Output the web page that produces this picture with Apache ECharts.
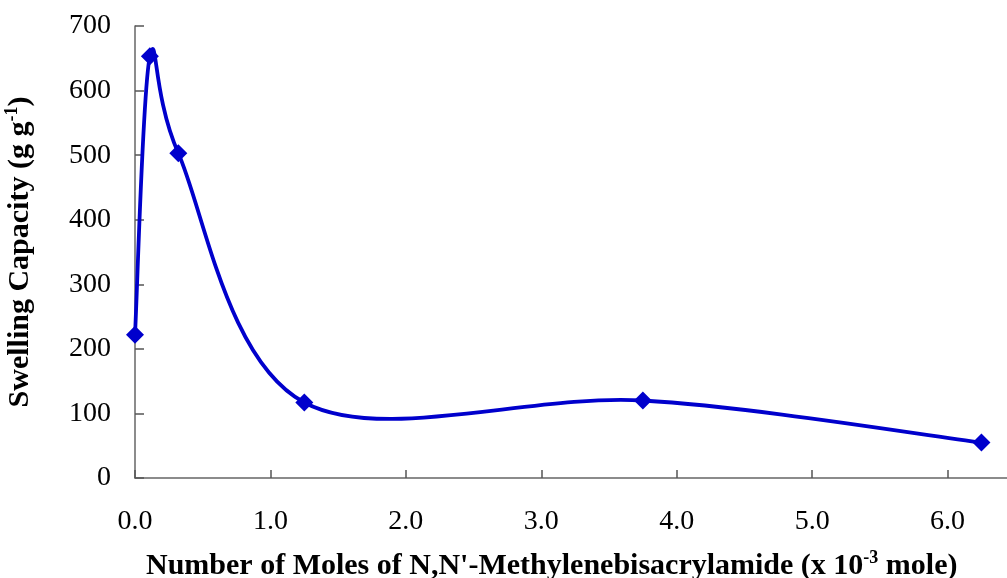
<!DOCTYPE html>
<html>
<head>
<meta charset="utf-8">
<script src="https://cdn.jsdelivr.net/npm/echarts@6/dist/echarts.min.js"></script>
<style>
html,body{margin:0;padding:0;background:#fff;}
#main{width:1007px;height:578px;}
</style>
</head>
<body>
<div id="main"></div>
<script>
var moles = [0, 0.11, 0.32, 1.25, 3.75, 6.25];
var swelling = [222, 653, 503, 117, 120, 55];
var xTicks = [0, 1, 2, 3, 4, 5, 6, 7];
var yTicks = [0, 100, 200, 300, 400, 500, 600, 700];

var FONT = '"Liberation Serif", "Times New Roman", serif';
var LINE_COLOR = '#0000CC';
var chart = echarts.init(document.getElementById('main'));
var pts = moles.map(function (x, i) { return [x, swelling[i]]; });

// Excel-style smoothed segment between point i and i+1 (Catmull-Rom, 1/6 tension)
function renderSegment(params, api) {
  var i = params.dataIndex;
  var n = moles.length;
  if (i >= n - 1) return null;
  function P(k) {
    k = Math.max(0, Math.min(n - 1, k));
    return api.coord([moles[k], swelling[k]]);
  }
  var p0 = P(i - 1), p1 = P(i), p2 = P(i + 1), p3 = P(i + 2);
  var c1 = [p1[0] + (p2[0] - p0[0]) / 6, p1[1] + (p2[1] - p0[1]) / 6];
  var c2 = [p2[0] - (p3[0] - p1[0]) / 6, p2[1] - (p3[1] - p1[1]) / 6];
  return {
    type: 'bezierCurve',
    shape: { x1: p1[0], y1: p1[1], x2: p2[0], y2: p2[1], cpx1: c1[0], cpy1: c1[1], cpx2: c2[0], cpy2: c2[1] },
    style: { stroke: LINE_COLOR, lineWidth: 3.8, fill: null, lineCap: 'round' }
  };
}

chart.setOption({
  animation: false,
  backgroundColor: '#ffffff',
  title: {
    text: "Number of Moles of N,N'-Methylenebisacrylamide (x 10{sup|-3} mole)",
    left: 141,
    top: 544,
    textStyle: {
      fontFamily: FONT, fontWeight: 'bold', fontSize: 30, color: '#000',
      rich: {
        sup: { fontFamily: FONT, fontWeight: 'bold', fontSize: 18, color: '#000', verticalAlign: 'top', lineHeight: 34 }
      }
    }
  },
  grid: { left: 135, top: 26, width: 948, height: 452, containLabel: false, outerBoundsMode: 'none' },
  xAxis: {
    type: 'value',
    min: xTicks[0],
    max: xTicks[xTicks.length - 1],
    interval: 1,
    axisLine: { show: true, lineStyle: { color: '#666', width: 1.5 } },
    axisTick: { show: true, inside: true, length: 8, lineStyle: { color: '#555', width: 1.5 } },
    splitLine: { show: false },
    axisLabel: {
      fontFamily: FONT, fontSize: 28, color: '#000', margin: 30,
      formatter: function (v) { return v.toFixed(1); }
    }
  },
  yAxis: {
    type: 'value',
    min: yTicks[0],
    max: yTicks[yTicks.length - 1],
    interval: 100,
    name: 'Swelling Capacity (g g{sup|-1})',
    nameLocation: 'middle',
    nameGap: 98,
    nameRotate: 90,
    nameTextStyle: {
      fontFamily: FONT, fontWeight: 'bold', fontSize: 30, color: '#000',
      rich: {
        sup: { fontFamily: FONT, fontWeight: 'bold', fontSize: 18, color: '#000', verticalAlign: 'top', lineHeight: 34 }
      }
    },
    axisLine: { show: true, lineStyle: { color: '#666', width: 1.5 } },
    axisTick: { show: true, inside: true, length: 9, lineStyle: { color: '#555', width: 1.5 } },
    splitLine: { show: false },
    axisLabel: { fontFamily: FONT, fontSize: 28, color: '#000', margin: 24 }
  },
  series: [{
    type: 'custom',
    data: pts,
    renderItem: renderSegment,
    clip: false,
    z: 2
  }, {
    type: 'scatter',
    data: pts,
    symbol: 'diamond',
    symbolSize: 18,
    itemStyle: { color: LINE_COLOR, opacity: 1 },
    clip: false,
    z: 3
  }]
});
</script>
</body>
</html>
